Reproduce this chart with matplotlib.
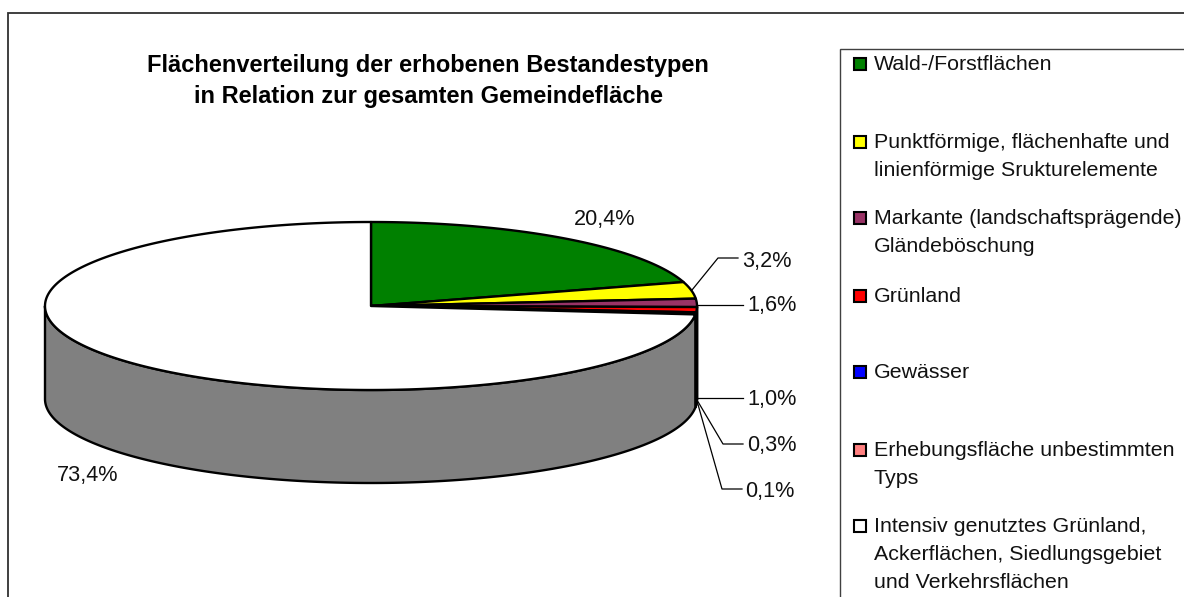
import matplotlib
matplotlib.use('Agg')
import matplotlib.pyplot as plt
from matplotlib.patches import Rectangle
import numpy as np

plt.rcParams['font.family'] = ['Liberation Sans', 'DejaVu Sans']

# slices, clockwise from 12 o'clock
values = [20.4, 3.2, 1.6, 1.0, 0.3, 0.1, 73.4]
value_labels = ['20,4%', '3,2%', '1,6%', '1,0%', '0,3%', '0,1%', '73,4%']
colors = ['#008000', '#FFFF00', '#993366', '#FF0000', '#0000FF', '#FF8080', '#FFFFFF']
side_colors = ['#004000', '#808000', '#4C1933', '#800000', '#000080', '#804040', '#808080']
legend_labels = [
    'Wald-/Forstflächen',
    'Punktförmige, flächenhafte und\nlinienförmige Srukturelemente',
    'Markante (landschaftsprägende)\nGländeböschung',
    'Grünland',
    'Gewässer',
    'Erhebungsfläche unbestimmten\nTyps',
    'Intensiv genutztes Grünland,\nAckerflächen, Siedlungsgebiet\nund Verkehrsflächen',
]
title = 'Flächenverteilung der erhobenen Bestandestypen\nin Relation zur gesamten Gemeindefläche'

# layout, in pixels of the picture
cx, cy, rx, ry, depth = 371, 306, 326, 84, 93
label_pos = [(605, 219), (767, 261), (772, 306), (772, 399), (772, 445), (770, 491), (88, 476)]
leaders = [
    None,
    [(692, 290), (718, 258), (738, 258)],
    [(697, 305), (743, 305)],
    [(697, 398), (743, 398)],
    [(697, 400), (723, 444), (743, 444)],
    [(697, 401), (722, 489), (742, 489)],
    None,
]
legend_y = [64, 142, 218, 296, 372, 450, 526]
line_step = 27.5

fig = plt.figure(figsize=(11.84, 5.97), dpi=100)
ax = fig.add_axes([0, 0, 1, 1])
ax.set_xlim(0, 1184)
ax.set_ylim(597, 0)
ax.axis('off')

# outer frame and legend frame run off the picture on the right and at the bottom
ax.add_patch(Rectangle((8, 13), 1300, 700, fc='white', ec='#303030', lw=1.3))
ax.add_patch(Rectangle((840, 49), 500, 700, fc='white', ec='#404040', lw=1.0))


def arc(t0, t1):
    t = np.radians(np.linspace(t0, t1, max(int(abs(t1 - t0) * 2), 2)))
    return cx + rx * np.sin(t), cy - ry * np.cos(t)


edges = np.cumsum([0] + values) * 3.6

# side walls, only the part facing the viewer (90 to 270 degrees)
for i in range(len(values)):
    t0, t1 = max(edges[i], 90), min(edges[i + 1], 270)
    if t1 <= t0:
        continue
    x, y = arc(t0, t1)
    ax.fill(np.r_[x, x[::-1]], np.r_[y, y[::-1] + depth], fc=side_colors[i], ec='black', lw=1.7, joinstyle='round')

# top of the pie
for i in range(len(values)):
    x, y = arc(edges[i], edges[i + 1])
    ax.fill(np.r_[cx, x], np.r_[cy, y], fc=colors[i], ec='black', lw=1.7, joinstyle='round')

# labels and leader lines
for i, lab in enumerate(value_labels):
    ax.text(label_pos[i][0], label_pos[i][1], lab, fontsize=15.6, ha='center', va='center', color='#111111')
    if leaders[i] is not None:
        px, py = zip(*leaders[i])
        ax.plot(px, py, color='black', lw=0.9)

ax.text(428, 81, title, fontsize=17, fontweight='bold', ha='center', va='center', linespacing=1.48)

# legend
for i, lab in enumerate(legend_labels):
    ax.add_patch(Rectangle((854, legend_y[i] - 6), 12, 12, fc=colors[i], ec='black', lw=1.5))
    for j, line in enumerate(lab.split('\n')):
        ax.text(874, legend_y[i] + 1 + j * line_step, line, fontsize=15.4, ha='left', va='center', color='#111111', clip_on=True)

fig.savefig('out.png', dpi=100)
